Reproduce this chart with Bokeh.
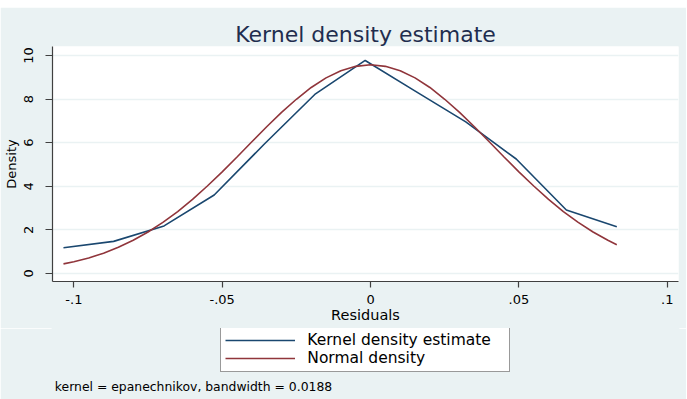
from bokeh.plotting import figure
from bokeh.layouts import column
from bokeh.models import Range1d, FixedTicker, Legend, LegendItem, Label, Spacer
from bokeh.embed import file_html
from bokeh.resources import INLINE

# Kernel density estimate
kde_x = [-0.1035, -0.0866, -0.0696, -0.0527, -0.0357, -0.0188, -0.0018,
         0.0152, 0.0321, 0.0491, 0.0660, 0.0830]
kde_y = [1.18, 1.47, 2.18, 3.60, 5.95, 8.21, 9.77, 8.35, 6.95, 5.25, 2.91, 2.14]

# Normal density overlay
normal_x = [-0.1035, -0.100, -0.095, -0.090, -0.085, -0.080, -0.075, -0.070,
            -0.065, -0.060, -0.055, -0.050, -0.045, -0.040, -0.035, -0.030,
            -0.025, -0.020, -0.015, -0.010, -0.005, 0.000, 0.005, 0.010,
            0.015, 0.020, 0.025, 0.030, 0.035, 0.040, 0.045, 0.050, 0.055,
            0.060, 0.065, 0.070, 0.075, 0.080, 0.083]
normal_y = [0.44, 0.54, 0.71, 0.93, 1.20, 1.52, 1.90, 2.34, 2.84, 3.40, 4.01,
            4.66, 5.34, 6.04, 6.73, 7.39, 7.99, 8.53, 8.97, 9.30, 9.50, 9.57,
            9.50, 9.30, 8.97, 8.53, 7.99, 7.39, 6.73, 6.04, 5.34, 4.66, 4.01,
            3.40, 2.84, 2.34, 1.90, 1.52, 1.32]

x_ticks = [-0.1, -0.05, 0, 0.05, 0.1]
x_tick_labels = ["-.1", "-.05", "0", ".05", ".1"]
y_ticks = [0, 2, 4, 6, 8, 10]

title_text = "Kernel density estimate"
x_label = "Residuals"
y_label = "Density"
series_names = ["Kernel density estimate", "Normal density"]
note_text = "kernel = epanechnikov, bandwidth = 0.0188"

FONT = "DejaVu Sans"
BG = "#EAF2F3"
NAVY = "#1A476F"
MAROON = "#90353B"
AXIS = "#404040"
W = 686

# ---------------- main plot ----------------
p = figure(width=W, height=321, output_backend="svg", toolbar_location=None,
           x_range=Range1d(-0.1072, 0.1038), y_range=Range1d(-0.37, 10.41),
           min_border_left=51, min_border_right=8, min_border_top=39,
           min_border_bottom=47)

p.background_fill_color = "white"
p.border_fill_color = BG
p.outline_line_color = None

p.title.text = title_text
p.title.align = "center"
p.title.text_font = FONT
p.title.text_font_size = "22px"
p.title.text_font_style = "normal"
p.title.text_color = "#1F2D4E"
p.title.standoff = 0

p.line(kde_x, kde_y, line_color=NAVY, line_width=1.6)
p.line(normal_x, normal_y, line_color=MAROON, line_width=1.6)

p.xaxis.ticker = FixedTicker(ticks=x_ticks)
p.xaxis.major_label_overrides = {t: l for t, l in zip(x_ticks, x_tick_labels)}
p.yaxis.ticker = FixedTicker(ticks=y_ticks)
for ax in (p.xaxis, p.yaxis):
    ax.axis_line_color = AXIS
    ax.axis_line_width = 1.2
    ax.major_tick_line_color = AXIS
    ax.major_tick_line_width = 1.2
    ax.major_tick_in = 0
    ax.minor_tick_line_color = None
    ax.major_label_text_font = FONT
    ax.major_label_text_color = "black"
    ax.axis_label_text_font = FONT
    ax.axis_label_text_font_style = "normal"
    ax.axis_label_text_color = "black"

p.xaxis.axis_label = x_label
p.xaxis.major_tick_out = 6
p.xaxis.major_label_text_font_size = "13px"
p.xaxis.major_label_standoff = 7
p.xaxis.axis_label_text_font_size = "14.5px"
p.xaxis.axis_label_standoff = 0

p.yaxis.axis_label = y_label
p.yaxis.major_tick_out = 7
p.yaxis.major_label_orientation = "vertical"
p.yaxis.major_label_text_font_size = "13px"
p.yaxis.major_label_standoff = 12
p.yaxis.axis_label_text_font_size = "13px"
p.yaxis.axis_label_standoff = 3

p.xgrid.visible = False
p.ygrid.grid_line_color = BG
p.ygrid.grid_line_width = 1.5

# ---------------- legend + note strip (frame aligned with the plot above) ----
q = figure(width=W, height=71, output_backend="svg", toolbar_location=None,
           x_range=Range1d(0, 1), y_range=Range1d(0, 1),
           x_axis_type=None, y_axis_type=None,
           min_border_left=0, min_border_right=0, min_border_top=0,
           min_border_bottom=0)
q.background_fill_color = BG
q.border_fill_color = BG
q.outline_line_color = BG
q.outline_line_width = 2
q.grid.visible = False

k_kde = q.line(kde_x, kde_y, line_color=NAVY, line_width=1.6, visible=False)
k_norm = q.line(normal_x, normal_y, line_color=MAROON, line_width=1.6, visible=False)

legend = Legend(items=[LegendItem(label=series_names[0], renderers=[k_kde]),
                       LegendItem(label=series_names[1], renderers=[k_norm])],
                location=(168.3, 27), margin=0, padding=4, spacing=0,
                glyph_width=70, glyph_height=16, label_height=16,
                label_width=198, label_standoff=12,
                label_text_font=FONT, label_text_font_size="15.5px",
                label_text_color="black",
                border_line_color="#333333", border_line_width=1,
                background_fill_color="white", background_fill_alpha=1.0,
                inactive_fill_alpha=0.0)
q.add_layout(legend, "center")

note = Label(x=2.3, y=12.7, x_units="screen", y_units="screen",
             text=note_text, text_font=FONT, text_font_size="12.4px",
             text_color="black", text_baseline="alphabetic")
q.add_layout(note)

layout = column(Spacer(width=W, height=7), p, q, spacing=0)

open("out.html", "w").write(file_html(layout, INLINE))
